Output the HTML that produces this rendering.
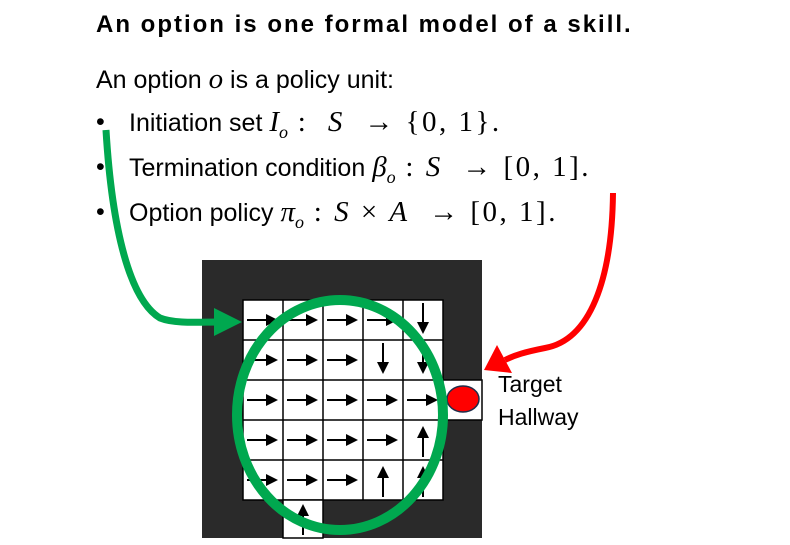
<!DOCTYPE html>
<html><head><style>
body{margin:0;width:790px;height:545px;background:#fff;position:relative;overflow:hidden;font-family:"Liberation Sans",sans-serif;}
.t{position:absolute;white-space:nowrap;color:#000;}
.m{font-family:"Liberation Serif",serif;font-size:29px;letter-spacing:2.5px;}
.i{font-family:"Liberation Serif",serif;font-style:italic;font-size:29px;}
</style></head><body>
<div class="t" style="left:96px;top:11px;font-size:24px;font-weight:bold;letter-spacing:2px;">An option is one formal model of a skill.</div>
<div class="t" style="left:96px;top:63px;font-size:25px;">An option <span class="i">o</span> is a policy unit:</div>
<div class="t" style="left:96px;top:108px;font-size:25px;">•</div>
<div class="t" style="left:129px;top:106px;font-size:25px;">Initiation set <span class="i">I<sub style="font-size:18px">o</sub></span><span class="m"> :&nbsp; <i>S</i>&nbsp; → {0, 1}.</span></div>
<div class="t" style="left:96px;top:153px;font-size:25px;">•</div>
<div class="t" style="left:129px;top:151px;font-size:25px;">Termination condition <span class="i">β<sub style="font-size:18px">o</sub></span><span class="m"> : <i>S</i>&nbsp; → [0, 1].</span></div>
<div class="t" style="left:96px;top:198px;font-size:25px;">•</div>
<div class="t" style="left:129px;top:196px;font-size:25px;">Option policy <span class="i">π<sub style="font-size:18px">o</sub></span><span class="m"> : <i>S</i> × <i>A</i>&nbsp; → [0, 1].</span></div>
<svg width="790" height="545" style="position:absolute;left:0;top:0">
<defs><marker id="ah" markerWidth="6" markerHeight="6" refX="3" refY="3" orient="auto"><path d="M0,0 L6,3 L0,6z" fill="#000"/></marker></defs>
<rect x="202" y="260" width="280" height="278" fill="#2a2a2a"/>
<g fill="#fff" stroke="#000" stroke-width="1.5">
<rect x="243" y="300" width="200" height="200"/>
<rect x="283" y="500" width="40" height="38"/>
<rect x="443" y="380" width="39" height="40"/>
</g>
<g stroke="#000" stroke-width="1.5">
<line x1="283" y1="300" x2="283" y2="500"/><line x1="323" y1="300" x2="323" y2="500"/><line x1="363" y1="300" x2="363" y2="500"/><line x1="403" y1="300" x2="403" y2="500"/>
<line x1="243" y1="340" x2="443" y2="340"/><line x1="243" y1="380" x2="443" y2="380"/><line x1="243" y1="420" x2="443" y2="420"/><line x1="243" y1="460" x2="443" y2="460"/>
</g>
<g stroke="#000" stroke-width="2" marker-end="url(#ah)">
<line x1="247" y1="320" x2="272" y2="320"/><line x1="287" y1="320" x2="312" y2="320"/><line x1="327" y1="320" x2="352" y2="320"/><line x1="367" y1="320" x2="392" y2="320"/><line x1="423" y1="303" x2="423" y2="328"/>
<line x1="247" y1="360" x2="272" y2="360"/><line x1="287" y1="360" x2="312" y2="360"/><line x1="327" y1="360" x2="352" y2="360"/><line x1="383" y1="343" x2="383" y2="368"/><line x1="423" y1="343" x2="423" y2="368"/>
<line x1="247" y1="400" x2="272" y2="400"/><line x1="287" y1="400" x2="312" y2="400"/><line x1="327" y1="400" x2="352" y2="400"/><line x1="367" y1="400" x2="392" y2="400"/><line x1="407" y1="400" x2="432" y2="400"/>
<line x1="247" y1="440" x2="272" y2="440"/><line x1="287" y1="440" x2="312" y2="440"/><line x1="327" y1="440" x2="352" y2="440"/><line x1="367" y1="440" x2="392" y2="440"/><line x1="423" y1="457" x2="423" y2="432"/>
<line x1="247" y1="480" x2="272" y2="480"/><line x1="287" y1="480" x2="312" y2="480"/><line x1="327" y1="480" x2="352" y2="480"/><line x1="383" y1="497" x2="383" y2="472"/><line x1="423" y1="497" x2="423" y2="472"/>
<line x1="303" y1="535" x2="303" y2="510"/>
</g>
<ellipse cx="463" cy="399" rx="16" ry="13" fill="#f00" stroke="#1f2d4a" stroke-width="1.5"/>
<ellipse cx="340" cy="415" rx="103" ry="115" fill="none" stroke="#00a84f" stroke-width="10"/>
<path d="M106,130 C112,230 130,300 160,318 C175,324 200,322 218,322" fill="none" stroke="#00a84f" stroke-width="7"/>
<path d="M214,308 L242,322 L214,336z" fill="#00a84f"/>
<path d="M613,193 C612,280 590,340 545,348 C525,352 515,355 505,360" fill="none" stroke="#f00" stroke-width="6"/>
<path d="M497,345 L484,370 L512,373z" fill="#f00"/>
<text x="498" y="392" font-size="23" font-family="Liberation Sans, sans-serif">Target</text>
<text x="498" y="425" font-size="23" font-family="Liberation Sans, sans-serif">Hallway</text>
</svg>
</body></html>
